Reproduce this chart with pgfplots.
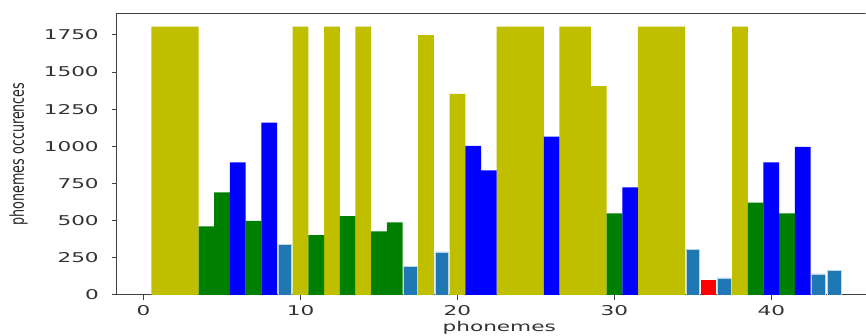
\documentclass[border=0pt]{standalone}
\usepackage{graphicx}
\usepackage{pgfplots}
\pgfplotsset{compat=1.18}
\usepackage{fontspec}
\setmainfont{DejaVu Sans}
\definecolor{cy}{HTML}{BFBF00}
\definecolor{cg}{HTML}{008000}
\definecolor{cb}{HTML}{0000FF}
\definecolor{ct}{HTML}{1F77B4}
\definecolor{cr}{HTML}{FF0000}
\begin{document}
\begin{tikzpicture}
\path (-117pt,-41pt) rectangle (749pt,295pt);
\begin{axis}[
  scale only axis,
  width=749pt, height=281.7pt,
  xmin=-1.7, xmax=46.0,
  ymin=0, ymax=1895,
  axis lines*=left,
  xtick={0,10,20,30,40},
  ytick={0,250,500,750,1000,1250,1500,1750},
  scaled y ticks=false,
  xticklabel={\scalebox{1.6}[1]{\pgfmathprintnumber[assume math mode=true,set thousands separator={}]{\tick}}},
  yticklabel={\scalebox{1.6}[1]{\pgfmathprintnumber[assume math mode=true,set thousands separator={}]{\tick}}},
  tick align=outside,
  major tick length=5pt,
  axis line style={black!75, line width=1pt, -},
  every tick/.style={black!75, line width=0.8pt},
  ticklabel style={font=\fontsize{13.5}{14}\selectfont, text=black!80},
  yticklabel style={inner sep=0pt, xshift=-13pt},
  xticklabel style={inner sep=0pt, yshift=-5pt},
  xlabel={\scalebox{1.6}[1]{phonemes}},
  xlabel style={font=\fontsize{13.5}{14}\selectfont, text=black!80, inner sep=0pt, at={(axis description cs:0.5,0)}, anchor=north, xshift=8pt, yshift=-26pt},
  ylabel={\scalebox{0.67}[1]{phonemes occurences}},
  ylabel style={font=\fontsize{19}{20}\selectfont, text=black!85, inner sep=0pt, at={(axis description cs:-0.1188,0.5)}, anchor=south},
  clip=true,
]
\addplot[ybar, bar width=1, bar shift=0pt, fill=cy, draw=none] coordinates {
 (1,1805) (2,1805) (3,1805) (10,1805) (12,1805) (14,1805) (18,1748) (20,1352)
 (23,1805) (24,1805) (25,1805) (27,1805) (28,1805) (29,1405) (32,1805) (33,1805) (34,1805) (38,1805)};
\addplot[ybar, bar width=1, bar shift=0pt, fill=cg, draw=none] coordinates {
 (4,461) (5,689) (7,497) (11,401) (13,530) (15,427) (16,488) (30,548) (39,620) (41,548)};
\addplot[ybar, bar width=1, bar shift=0pt, fill=cb, draw=none] coordinates {
 (6,891) (8,1159) (21,1003) (22,837) (26,1065) (31,723) (40,891) (42,996)};
\addplot[ybar, bar width=0.88, bar shift=0pt, fill=ct, draw=white!70!ct, line width=0.6pt] coordinates {
 (9,340) (17,192) (19,289) (35,307) (37,114) (43,141) (44,166)};
\addplot[ybar, bar width=1, bar shift=0pt, fill=cr, draw=none] coordinates {
 (36,103)};
\draw[black!75, line width=1pt] (rel axis cs:0,1) -- (rel axis cs:1,1);
\end{axis}
\end{tikzpicture}
\end{document}
